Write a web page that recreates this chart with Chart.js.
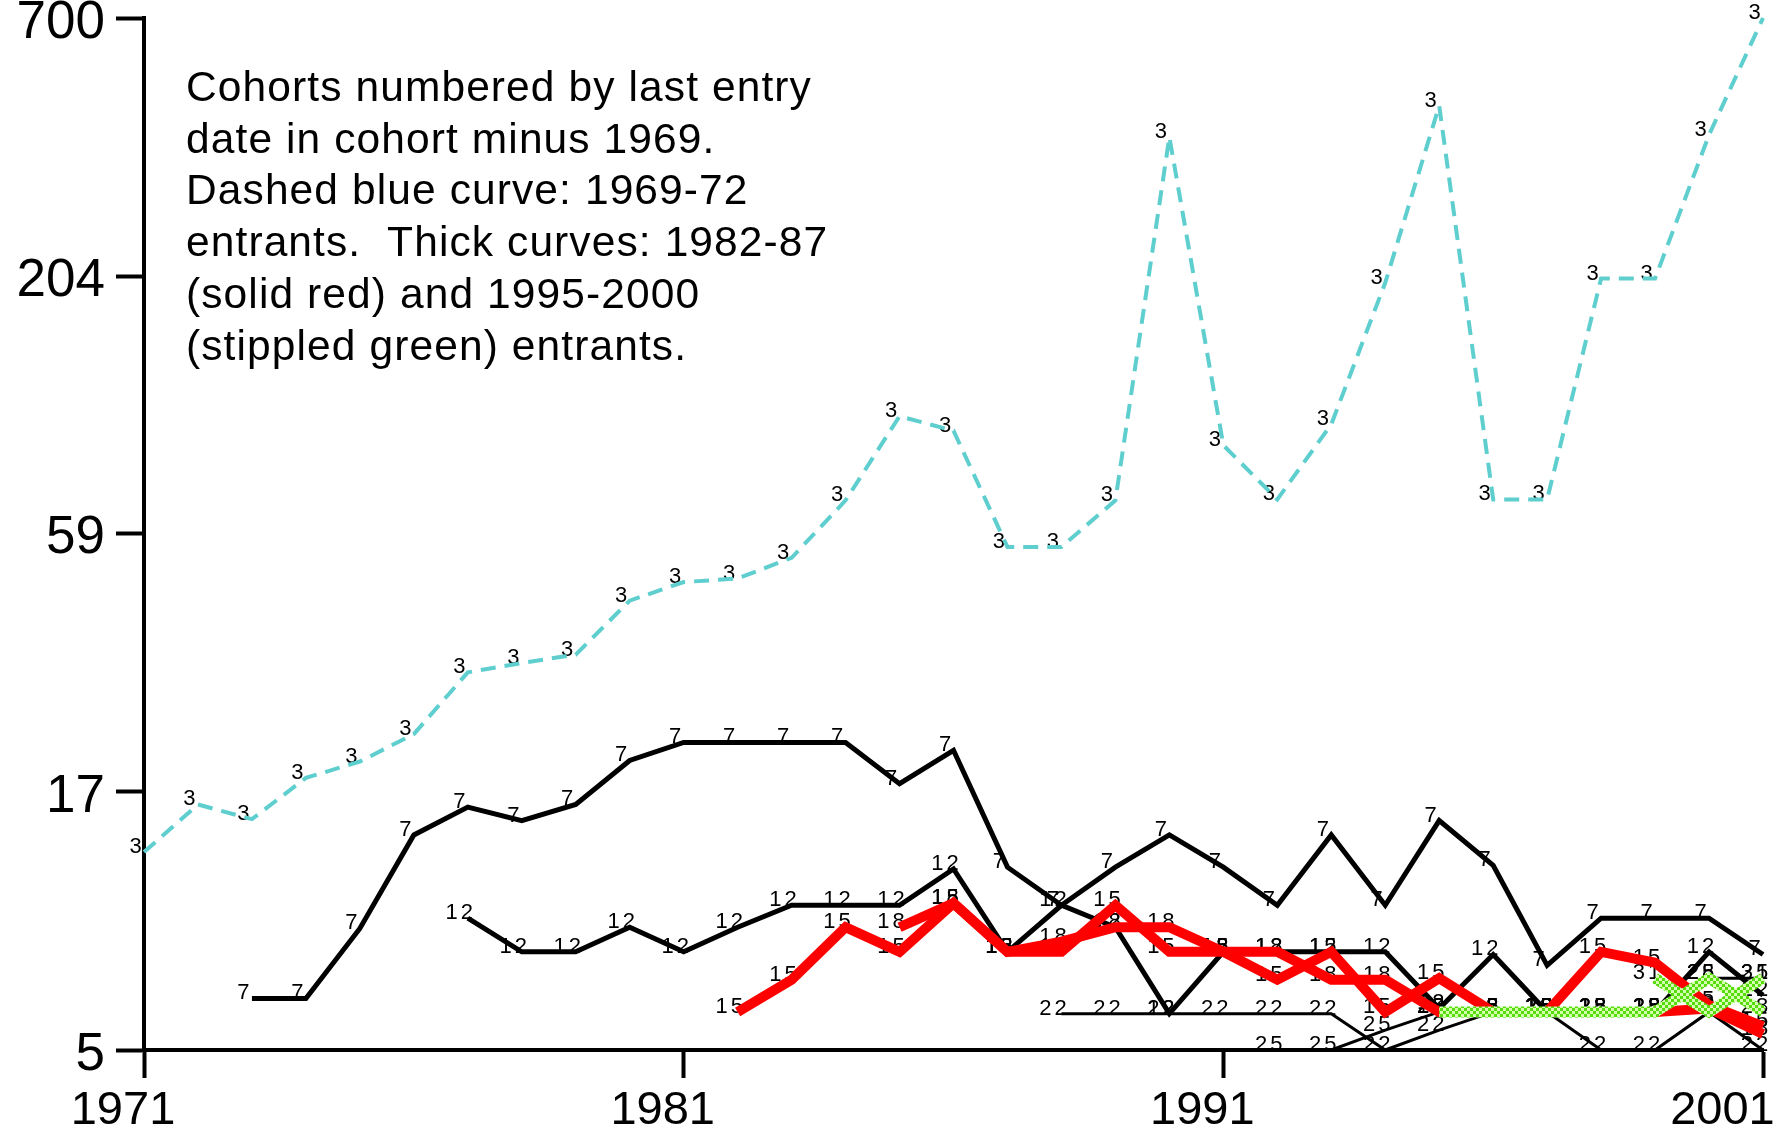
<!DOCTYPE html>
<html>
<head>
<meta charset="utf-8">
<title>Cohorts</title>
<script src="https://cdn.jsdelivr.net/npm/chart.js@4.4.1/dist/chart.umd.min.js"></script>
<style>
  html, body { margin: 0; padding: 0; background: #fff; }
  canvas { display: block; }
</style>
</head>
<body>
<canvas id="cohortChart" width="1792" height="1135"></canvas>
<script>
// axis ticks
const xTicks = [1971, 1981, 1991, 2001];
const yTicks = [5, 17.2, 59.2, 203.5, 700];
const yTickLabels = ['5', '17', '59', '204', '700'];

// cohorts, numbered by last entry date minus 1969 (first year + yearly values)
const cohort3Start = 1971;
const cohort3 = [12.9, 16.2, 15.1, 18.4, 19.9, 22.7, 30.5, 31.9, 33.2, 43.0, 47.0, 47.8, 52.8, 69.5, 104, 97,
                 55.6, 55.6, 69.5, 396, 90.5, 69.8, 100, 197, 460, 69.8, 69.8, 201, 201, 400, 700];
const cohort7Start = 1973;
const cohort7 = [6.4, 6.4, 8.95, 14.0, 16.0, 15.0, 16.2, 20.0, 21.8, 21.8, 21.8, 21.8, 17.9, 21.0,
                 12.0, 10.0, 12.0, 14.0, 12.0, 10.0, 14.0, 10.0, 15.0, 12.1, 7.5, 9.4, 9.4, 9.4, 7.9];
const cohort12Start = 1977;
const cohort12 = [9.4, 8.0, 8.0, 9.0, 8.0, 9.0, 10.0, 10.0, 10.0, 11.9, 8.0, 10.0, 9.0, 5.95,
                  8.0, 8.0, 8.0, 8.0, 6.1, 7.9, 6.0, 6.0, 6.0, 8.0, 6.5];
const cohort15Start = 1982;
const cohort15 = [6.0, 7.0, 9.0, 8.0, 10.1, 8.0, 8.0, 10.0, 8.0, 8.0, 7.0, 8.0, 6.0, 7.05,
                  6.0, 6.0, 8.0, 7.6, 6.2, 5.6];
const cohort18Start = 1985;
const cohort18 = [9.0, 10.1, 8.0, 8.4, 9.0, 9.0, 8.0, 8.0, 7.0, 7.0, 6.0, 6.0, 6.0, 6.0, 6.0, 6.1, 5.4];
const cohort22Start = 1988;
const cohort22 = [5.95, 5.95, 5.95, 5.95, 5.95, 5.95, 5.0, 5.5, 6.0, 6.0, 5.0, 5.0, 6.0, 5.0];
const cohort25Start = 1992;
const cohort25 = [5.0, 5.0, 5.5, 6.0, 6.0, 6.0, 6.0, 6.0, 7.05, 7.05];
const cohort28Start = 1995;
const cohort28 = [6.0, 6.0, 6.0, 6.0, 6.0, 7.05, 6.0];
const cohort31Start = 1999;
const cohort31 = [7.05, 6.0, 7.05];

const noteLines = [
    'Cohorts numbered by last entry',
    'date in cohort minus 1969.',
    'Dashed blue curve: 1969-72',
    'entrants.  Thick curves: 1982-87',
    '(solid red) and 1995-2000',
    '(stippled green) entrants.'
];

const FONT = '"Liberation Sans", Arial, sans-serif';

function points(start, values) {
    return values.map((v, i) => ({ x: start + i, y: v }));
}

// green stippled stroke
function stipplePattern(ctx) {
    const tile = document.createElement('canvas');
    tile.width = 6; tile.height = 6;
    const t = tile.getContext('2d');
    t.fillStyle = '#d4ffb0';
    t.fillRect(0, 0, 6, 6);
    t.fillStyle = '#55dd0a';
    t.fillRect(0, 0, 3, 3);
    t.fillRect(3, 3, 3, 3);
    return ctx.createPattern(tile, 'repeat');
}

// small cohort numbers next to every point
const cohortLabels = {
    id: 'cohortLabels',
    beforeDatasetsDraw(chart) {
        const ctx = chart.ctx;
        ctx.save();
        ctx.font = '22px ' + FONT;
        ctx.fillStyle = '#000';
        ctx.textAlign = 'center';
        ctx.textBaseline = 'alphabetic';
        if ('letterSpacing' in ctx) ctx.letterSpacing = '3px';
        chart.data.datasets.forEach((ds, i) => {
            chart.getDatasetMeta(i).data.forEach(pt => {
                ctx.fillText(ds.label, pt.x - 7, pt.y + 1);
            });
        });
        ctx.restore();
    }
};

const noteText = {
    id: 'noteText',
    afterDraw(chart) {
        const ctx = chart.ctx;
        ctx.save();
        ctx.font = '42.5px ' + FONT;
        ctx.fillStyle = '#000';
        ctx.textAlign = 'left';
        ctx.textBaseline = 'alphabetic';
        if ('letterSpacing' in ctx) ctx.letterSpacing = '1.1px';
        noteLines.forEach((line, i) => {
            ctx.fillText(line, 186, 101 + i * 51.7);
        });
        ctx.restore();
    }
};

const canvas = document.getElementById('cohortChart');
const green = stipplePattern(canvas.getContext('2d'));

function blackLine(label, start, values, width) {
    return {
        label: label,
        data: points(start, values),
        borderColor: '#000',
        borderWidth: width,
        order: 2
    };
}

new Chart(canvas, {
    type: 'line',
    data: {
        datasets: [
            {
                label: '3',
                data: points(cohort3Start, cohort3),
                borderColor: '#5ecece',
                borderWidth: 4,
                borderDash: [15, 9],
                order: 3
            },
            blackLine('7', cohort7Start, cohort7, 5),
            blackLine('12', cohort12Start, cohort12, 5),
            blackLine('22', cohort22Start, cohort22, 3),
            blackLine('25', cohort25Start, cohort25, 3),
            { label: '15', data: points(cohort15Start, cohort15), borderColor: '#ff0000', borderWidth: 10, order: 1 },
            { label: '18', data: points(cohort18Start, cohort18), borderColor: '#ff0000', borderWidth: 10, order: 1 },
            { label: '28', data: points(cohort28Start, cohort28), borderColor: green, borderWidth: 11, order: 0 },
            { label: '31', data: points(cohort31Start, cohort31), borderColor: green, borderWidth: 11, order: 0 }
        ]
    },
    options: {
        responsive: false,
        animation: false,
        devicePixelRatio: 1,
        layout: { padding: { top: 18, right: 29, left: 0, bottom: 0 } },
        elements: {
            point: { radius: 0, hoverRadius: 0 },
            line: { tension: 0, borderJoinStyle: 'miter', fill: false }
        },
        datasets: { line: { clip: false } },
        plugins: {
            legend: { display: false },
            tooltip: { enabled: false }
        },
        scales: {
            x: {
                type: 'linear',
                min: 1971,
                max: 2001,
                afterBuildTicks: scale => { scale.ticks = xTicks.map(v => ({ value: v })); },
                afterFit: scale => { scale.height = 85; scale.paddingLeft = 0; scale.paddingRight = 0; },
                ticks: {
                    autoSkip: false,
                    maxRotation: 0,
                    padding: 5,
                    labelOffset: -21,
                    color: '#000',
                    font: { family: FONT, size: 47 },
                    callback: (value, index) => String(value) + (index === xTicks.length - 1 ? '   ' : '')
                },
                grid: { drawOnChartArea: false, drawTicks: true, tickLength: 28, tickWidth: 4, tickColor: '#000' },
                border: { display: true, color: '#000', width: 4 }
            },
            y: {
                type: 'logarithmic',
                min: 5,
                max: 700,
                afterBuildTicks: scale => { scale.ticks = yTicks.map(v => ({ value: v })); },
                afterFit: scale => { scale.width = 144; scale.paddingTop = 0; scale.paddingBottom = 0; },
                ticks: {
                    autoSkip: false,
                    padding: 11,
                    labelOffset: 5,
                    color: '#000',
                    font: { family: FONT, size: 53 },
                    callback: (value, index) => yTickLabels[index]
                },
                grid: { drawOnChartArea: false, drawTicks: true, tickLength: 28, tickWidth: 4, tickColor: '#000' },
                border: { display: true, color: '#000', width: 4 }
            }
        }
    },
    plugins: [cohortLabels, noteText]
});
</script>
</body>
</html>
